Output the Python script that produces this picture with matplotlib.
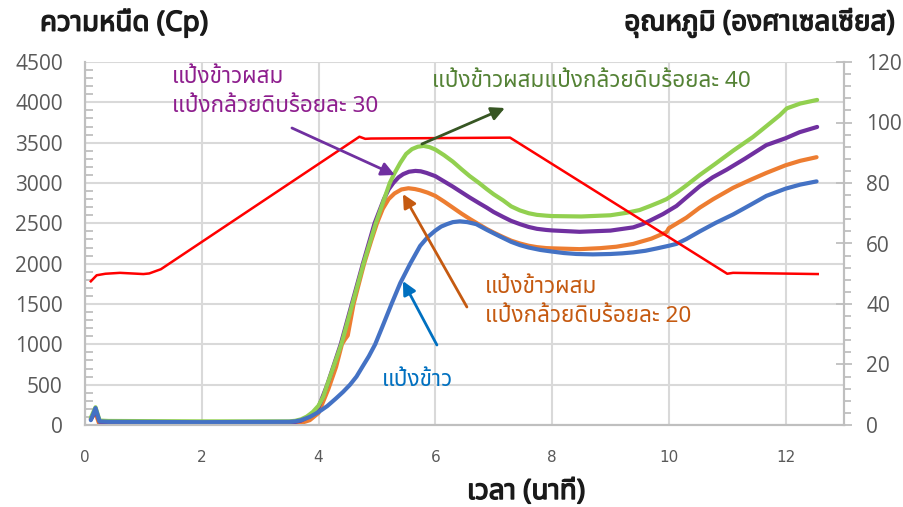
import matplotlib
matplotlib.use("Agg")
import matplotlib.pyplot as plt
from matplotlib import font_manager as fm
from matplotlib import patheffects
from matplotlib.ticker import MultipleLocator

# ---------------- data ----------------
time_temp = [0.10, 0.20, 0.35, 0.60, 1.00, 1.10, 1.30, 4.70, 4.80, 4.90, 7.28, 11.00, 11.10, 12.55]
temp      = [47.5, 49.5, 50.0, 50.3, 49.9, 50.1, 51.5, 95.3, 94.6, 94.7, 95.0, 50.0, 50.3, 49.9]

time_blue = [0.10, 0.18, 0.25, 0.40, 2.00, 3.50, 3.60, 3.70, 3.85, 4.00, 4.15, 4.30, 4.42, 4.54, 4.65,
             4.75, 4.86, 4.97, 5.10, 5.25, 5.40, 5.57, 5.74, 5.87, 6.00, 6.10, 6.20, 6.30, 6.42, 6.55,
             6.70, 6.88, 7.10, 7.30, 7.45, 7.60, 7.80, 8.00, 8.20, 8.42, 8.70, 9.00, 9.20, 9.39, 9.60,
             9.80, 10.00, 10.13, 10.30, 10.53, 10.80, 11.10, 11.40, 11.67, 12.00, 12.25, 12.53]
visc_blue = [60, 210, 45, 40, 35, 40, 45, 60, 100, 160, 235, 330, 410, 500, 600,
             720, 850, 1000, 1230, 1500, 1760, 2000, 2220, 2330, 2410, 2460, 2490, 2515, 2525, 2515,
             2490, 2420, 2340, 2270, 2230, 2200, 2170, 2150, 2132, 2120, 2115, 2120, 2128, 2140, 2160,
             2190, 2222, 2245, 2305, 2400, 2505, 2610, 2730, 2840, 2930, 2980, 3020]

time_orange = [0.10, 0.18, 0.25, 0.40, 2.00, 3.50, 3.60, 3.70, 3.85, 4.00, 4.17, 4.30, 4.40, 4.45, 4.50,
               4.60, 4.78, 4.90, 5.00, 5.10, 5.20, 5.30, 5.42, 5.54, 5.65, 5.74, 5.87, 6.00, 6.15, 6.30,
               6.45, 6.59, 6.75, 6.88, 7.00, 7.16, 7.30, 7.45, 7.60, 7.74, 7.90, 8.00, 8.47, 8.82, 9.10,
               9.39, 9.70, 9.96, 10.00, 10.07, 10.30, 10.53, 10.76, 11.10, 11.40, 11.67, 12.00, 12.25, 12.53]
visc_orange = [80, 150, 0, 0, 5, 5, 10, 25, 60, 150, 450, 720, 1000, 1060, 1110,
               1500, 2000, 2280, 2500, 2680, 2800, 2870, 2920, 2935, 2925, 2910, 2880, 2840, 2770, 2695,
               2620, 2555, 2485, 2430, 2385, 2330, 2285, 2250, 2222, 2205, 2193, 2190, 2180, 2192, 2210,
               2245, 2310, 2390, 2440, 2470, 2570, 2695, 2800, 2940, 3040, 3125, 3220, 3275, 3320]

time_purple = [0.10, 0.18, 0.25, 0.40, 2.00, 3.50, 3.60, 3.70, 3.85, 4.00, 4.15, 4.38, 4.57, 4.76, 4.96,
               5.12, 5.20, 5.28, 5.37, 5.45, 5.55, 5.66, 5.75, 5.85, 6.00, 6.15, 6.30, 6.45, 6.59, 6.75,
               6.88, 7.00, 7.16, 7.30, 7.45, 7.60, 7.74, 7.90, 8.00, 8.47, 9.00, 9.39, 9.55, 9.68, 9.90,
               10.13, 10.30, 10.53, 10.75, 10.99, 11.30, 11.67, 12.00, 12.24, 12.54]
visc_purple = [70, 180, 40, 35, 30, 30, 38, 55, 110, 220, 500, 1000, 1500, 2000, 2500,
               2800, 2920, 3000, 3070, 3110, 3140, 3150, 3145, 3125, 3085, 3020, 2955, 2885, 2820, 2750,
               2695, 2640, 2580, 2530, 2490, 2455, 2432, 2418, 2412, 2395, 2410, 2450, 2490, 2535, 2615,
               2715, 2820, 2960, 3070, 3165, 3300, 3470, 3555, 3630, 3695]

time_green = [0.10, 0.18, 0.25, 0.40, 2.00, 3.50, 3.60, 3.70, 3.80, 3.90, 4.00, 4.08, 4.15, 4.39, 4.58,
              4.77, 4.98, 5.22, 5.30, 5.40, 5.50, 5.60, 5.70, 5.80, 5.90, 6.00, 6.15, 6.30, 6.45, 6.59,
              6.75, 6.88, 7.00, 7.16, 7.30, 7.45, 7.60, 7.74, 7.90, 8.00, 8.50, 9.00, 9.27, 9.50, 9.68,
              9.85, 9.96, 10.15, 10.30, 10.53, 10.80, 11.10, 11.44, 11.56, 11.90, 12.02, 12.25, 12.54]
visc_green = [90, 220, 55, 50, 45, 45, 52, 70, 105, 160, 240, 350, 500, 1000, 1500,
              2000, 2500, 3000, 3120, 3250, 3360, 3420, 3450, 3460, 3445, 3415, 3345, 3265, 3170, 3085,
              3000, 2925, 2860, 2785, 2710, 2660, 2625, 2605, 2595, 2590, 2585, 2600, 2630, 2665, 2715,
              2765, 2800, 2890, 2970, 3100, 3240, 3400, 3570, 3640, 3840, 3925, 3985, 4030]

x_ticks = [0, 2, 4, 6, 8, 10, 12]
visc_ticks = list(range(0, 4501, 500))
temp_ticks = list(range(0, 121, 20))

label_rice = "แป้งข้าว"
label_20 = "แป้งข้าวผสม\nแป้งกล้วยดิบร้อยละ 20"
label_30 = "แป้งข้าวผสม\nแป้งกล้วยดิบร้อยละ 30"
label_40 = "แป้งข้าวผสมแป้งกล้วยดิบร้อยละ 40"
ylabel_left = "ความหนืด (Cp)"
ylabel_right = "อุณหภูมิ (องศาเซลเซียส)"
xlabel = "เวลา (นาที)"

# ---------------- fonts ----------------
def find_thai_font():
    prefs = ['Leelawadee UI', 'Tahoma', 'Noto Sans Thai', 'Noto Sans Thai UI', 'Noto Sans Thai Looped',
             'Sarabun', 'Loma', 'Garuda', 'Waree', 'Umpush', 'Kinnari', 'Norasi', 'Laksaman',
             'Noto Serif Thai', 'FreeSans']
    names = {f.name for f in fm.fontManager.ttflist}
    for p in prefs:
        if p in names:
            return p
    try:
        from matplotlib.ft2font import FT2Font
        for f in fm.fontManager.ttflist:
            try:
                cm = FT2Font(f.fname).get_charmap()
                if 0x0E01 in cm and 0x0E49 in cm and 0x0E32 in cm:
                    return f.name
            except Exception:
                pass
    except Exception:
        pass
    return None

thai = find_thai_font()
fam = ([thai] if thai else []) + ['Open Sans', 'DejaVu Sans']
plt.rcParams['font.family'] = fam

W, H = 904, 507
fig = plt.figure(figsize=(W / 100, H / 100), dpi=100)

def fx(px):
    return px / W

def fy(py):
    return 1 - py / H

ax = fig.add_axes([fx(85), fy(425), fx(844) - fx(85), fy(62) - fy(425)])
ax2 = ax.twinx()

c_grid = '#D9D9D9'
c_axis = '#BFBFBF'
c_tick = '#595959'

ax.set_xlim(0, 13)
ax.set_ylim(0, 4500)
ax2.set_ylim(0, 120)
ax.set_xticks(x_ticks)
ax.set_yticks(visc_ticks)
ax2.set_yticks(temp_ticks)
ax.yaxis.set_minor_locator(MultipleLocator(100))
ax2.yaxis.set_minor_locator(MultipleLocator(4))
ax.grid(True, color=c_grid, lw=1.5)
ax.set_axisbelow(True)

for a in (ax, ax2):
    for s in a.spines.values():
        s.set_color(c_axis)
        s.set_linewidth(1.5)
    a.spines['top'].set_visible(False)

ax.tick_params(axis='x', length=0, labelsize=11, labelcolor=c_tick, pad=18)
ax.tick_params(axis='y', which='major', length=0, labelsize=15, labelcolor=c_tick, pad=16)
ax.tick_params(axis='y', which='minor', direction='in', length=6, color=c_axis, width=1.3)
ax2.tick_params(axis='y', which='major', direction='inout', length=12, color=c_axis, width=1.3,
                labelsize=15, labelcolor=c_tick, pad=10)
ax2.tick_params(axis='y', which='minor', direction='out', length=5, color=c_axis, width=1.3)
for lab in ax.get_xticklabels():
    lab.set_family(['Liberation Sans Narrow', 'DejaVu Sans'])
for lab in ax.get_yticklabels() + ax2.get_yticklabels():
    lab.set_family(['Open Sans', 'DejaVu Sans'])

lw = 3.0
kw = dict(lw=lw, solid_capstyle='round', solid_joinstyle='round')
ax.plot(time_orange, visc_orange, color='#ED7D31', zorder=3, **kw)
ax.plot(time_purple, visc_purple, color='#7030A0', zorder=4, **kw)
ax.plot(time_green, visc_green, color='#92D050', zorder=5, **kw)
ax.plot(time_blue, visc_blue, color='#4472C4', zorder=6, **kw)
ax2.plot(time_temp, temp, color='#FF0000', lw=1.8, zorder=7, solid_joinstyle='round')

# annotations (pixel -> data)
def d(px, py):
    return ((px - 85) / 58.4, (425 - py) * 4500 / 363)

def arrow(start, tip, color):
    ax2.annotate('', xy=ax2.transData.inverted().transform(ax.transData.transform(d(*tip))),
                 xytext=ax2.transData.inverted().transform(ax.transData.transform(d(*start))),
                 arrowprops=dict(arrowstyle='-|>', color=color, lw=2, mutation_scale=20,
                                 shrinkA=0, shrinkB=0), zorder=10)

arrow((292, 128), (395, 175), '#7030A0')
arrow((422, 144), (505, 108), '#375623')
arrow((467, 307), (403, 194), '#C55A11')
arrow((437, 345), (403, 281), '#0070C0')

fs_lab = 16.2
fig.text(fx(172), fy(92), label_30, color='#8E1F8E', fontsize=fs_lab, va='center', ha='left',
         linespacing=1.45)
fig.text(fx(432), fy(82), label_40, color='#548235', fontsize=fs_lab, va='center', ha='left')
fig.text(fx(485), fy(302), label_20, color='#C55A11', fontsize=fs_lab, va='center', ha='left',
         linespacing=1.45)
fig.text(fx(382), fy(380), label_rice, color='#0070C0', fontsize=fs_lab, va='center', ha='left')

bold = [patheffects.withStroke(linewidth=1.0, foreground='#1A1A1A')]
fs_title = 20
fig.text(fx(40), fy(23), ylabel_left, fontsize=fs_title, fontweight='bold', color='#1A1A1A',
         ha='left', va='center', path_effects=bold)
fig.text(fx(895), fy(23), ylabel_right, fontsize=fs_title, fontweight='bold', color='#1A1A1A',
         ha='right', va='center', path_effects=bold)
fig.text(fx(526), fy(492), xlabel, fontsize=fs_title, fontweight='bold', color='#1A1A1A',
         ha='center', va='center', path_effects=bold)

fig.savefig('out.png', dpi=100)
